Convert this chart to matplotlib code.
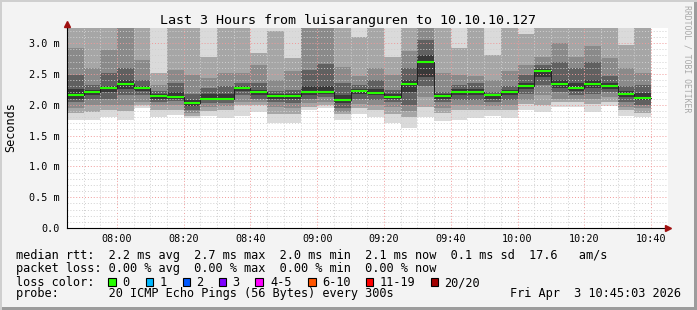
import numpy as np
import matplotlib
matplotlib.use('Agg')
import matplotlib.pyplot as plt
from matplotlib.patches import Rectangle
from matplotlib.ticker import MultipleLocator, FuncFormatter

W, H = 697, 310
MONO = 'DejaVu Sans Mono'

# one bar every 300 s, first one at 07:45 (minutes after midnight)
step = 5
t0 = 7 * 60 + 45
times = t0 + step * np.arange(35)

# median rtt per bar (ms)
median = [2.16, 2.20, 2.27, 2.34, 2.27, 2.14, 2.13, 2.03, 2.10, 2.10,
          2.27, 2.20, 2.14, 2.14, 2.21, 2.20, 2.08, 2.23, 2.19, 2.13,
          2.34, 2.69, 2.14, 2.21, 2.21, 2.16, 2.21, 2.31, 2.55, 2.34,
          2.27, 2.34, 2.31, 2.18, 2.11]

# smoke: per bar, bottom/top of each shade band, outer band first (ms)
smoke_lo = [
    [1.75, 1.86, 1.95, 2.04, 2.10], [1.75, 1.88, 2.00, 2.10, 2.16],
    [1.80, 1.92, 2.00, 2.10, 2.20], [1.75, 1.90, 2.00, 2.16, 2.25],
    [1.95, 2.00, 2.05, 2.15, 2.22], [1.80, 1.92, 2.00, 2.05, 2.10],
    [1.83, 1.92, 2.00, 2.06, 2.10], [1.78, 1.82, 1.87, 1.92, 1.98],
    [1.81, 1.90, 1.97, 2.03, 2.07], [1.78, 1.92, 1.98, 2.03, 2.07],
    [1.81, 2.00, 2.05, 2.15, 2.22], [1.89, 2.00, 2.05, 2.10, 2.16],
    [1.70, 1.85, 1.97, 2.05, 2.10], [1.70, 1.85, 1.95, 2.03, 2.10],
    [1.92, 1.97, 2.03, 2.10, 2.16], [1.95, 1.99, 2.05, 2.12, 2.17],
    [1.76, 1.85, 1.89, 1.95, 2.03], [1.85, 1.95, 2.02, 2.10, 2.18],
    [1.80, 1.92, 2.00, 2.08, 2.15], [1.70, 1.85, 1.97, 2.05, 2.10],
    [1.63, 1.80, 1.90, 2.00, 2.20], [1.80, 1.97, 2.13, 2.30, 2.45],
    [1.73, 1.87, 1.95, 2.05, 2.10], [1.76, 1.92, 2.00, 2.08, 2.15],
    [1.78, 1.92, 2.00, 2.08, 2.16], [1.82, 1.92, 1.98, 2.05, 2.10],
    [1.78, 1.92, 2.00, 2.08, 2.16], [1.92, 2.02, 2.08, 2.18, 2.26],
    [1.89, 2.00, 2.16, 2.32, 2.45], [1.97, 2.05, 2.10, 2.20, 2.27],
    [1.97, 2.05, 2.10, 2.16, 2.22], [1.89, 2.02, 2.10, 2.18, 2.27],
    [1.98, 2.05, 2.12, 2.20, 2.26], [1.81, 1.92, 1.97, 2.05, 2.13],
    [1.80, 1.87, 1.95, 2.00, 2.07],
]
smoke_hi = [
    [3.30, 3.25, 2.92, 2.48, 2.26], [3.30, 3.30, 2.59, 2.32, 2.24],
    [3.30, 3.30, 2.89, 2.51, 2.30], [3.30, 3.30, 3.30, 2.59, 2.40],
    [3.30, 3.30, 2.73, 2.40, 2.30], [3.30, 2.52, 2.32, 2.22, 2.17],
    [3.30, 3.30, 2.57, 2.35, 2.20], [3.30, 3.30, 2.48, 2.18, 2.08],
    [3.30, 2.78, 2.43, 2.27, 2.17], [3.30, 3.30, 2.51, 2.30, 2.17],
    [3.30, 3.25, 2.51, 2.35, 2.30], [3.30, 2.84, 2.65, 2.35, 2.24],
    [3.30, 3.20, 2.40, 2.22, 2.18], [3.30, 2.76, 2.54, 2.24, 2.18],
    [3.30, 3.30, 3.30, 2.57, 2.30], [3.30, 3.30, 3.30, 2.66, 2.30],
    [3.30, 3.30, 2.62, 2.35, 2.16], [3.30, 3.10, 2.46, 2.32, 2.26],
    [3.30, 3.30, 2.59, 2.40, 2.25], [3.30, 2.78, 2.48, 2.24, 2.17],
    [3.30, 3.30, 2.87, 2.59, 2.40], [3.30, 3.30, 3.30, 3.05, 2.80],
    [3.30, 3.30, 2.51, 2.21, 2.18], [3.30, 2.92, 2.48, 2.32, 2.26],
    [3.30, 3.30, 2.46, 2.35, 2.26], [3.30, 2.80, 2.40, 2.21, 2.18],
    [3.30, 3.30, 2.54, 2.30, 2.24], [3.30, 3.15, 2.65, 2.48, 2.35],
    [3.30, 3.30, 2.78, 2.65, 2.58], [3.30, 3.30, 3.00, 2.70, 2.40],
    [3.30, 3.30, 2.78, 2.59, 2.35], [3.30, 3.30, 2.95, 2.70, 2.40],
    [3.30, 3.30, 2.76, 2.46, 2.35], [3.30, 2.97, 2.59, 2.30, 2.22],
    [3.30, 3.30, 2.51, 2.32, 2.19],
]
shades = ['#dadada', '#a6a6a6', '#8a8a8a', '#606060', '#383838']

loss_labels = ['0', '1', '2', '3', '4-5', '6-10', '11-19', '20/20']
loss_colors = ['#26ff00', '#00b8ff', '#0059ff', '#7e00ff', '#ff00ff',
               '#ff5500', '#ff0000', '#a10000']

title = 'Last 3 Hours from luisaranguren to 10.10.10.127'
rtt_line = 'median rtt:  2.2 ms avg  2.7 ms max  2.0 ms min  2.1 ms now  0.1 ms sd  17.6   am/s'
loss_line = 'packet loss: 0.00 % avg  0.00 % max  0.00 % min  0.00 % now'
probe_line = 'probe:       20 ICMP Echo Pings (56 Bytes) every 300s'
stamp = 'Fri Apr  3 10:45:03 2026'


def fx(x):
    return x / W


def fy(y):
    return 1 - y / H


fig = plt.figure(figsize=(W / 100, H / 100), dpi=100, facecolor='#f3f3f3')
ax = fig.add_axes([fx(67), fy(228), (668 - 67) / W, (228 - 27.7) / H])
ax.set_facecolor('white')

lo = np.array(smoke_lo)
hi = np.array(smoke_hi)
for k in range(lo.shape[1]):
    ax.bar(times, hi[:, k] - lo[:, k], bottom=lo[:, k], width=step,
           align='edge', color=shades[k], linewidth=0, zorder=1)

med = np.array(median)
ax.step(np.append(times, times[-1] + step), np.append(med, med[-1]),
        where='post', color='#202020', lw=0.7, zorder=3)
ax.hlines(med, times, times + step, color=loss_colors[0], lw=1.5, zorder=4)

ax.set_xlim(t0 + 0.05, t0 + 180.05)
ax.set_ylim(0, 3.25)

ax.xaxis.set_major_locator(MultipleLocator(20))
ax.xaxis.set_minor_locator(MultipleLocator(5))
ax.yaxis.set_major_locator(MultipleLocator(0.5))
ax.yaxis.set_minor_locator(MultipleLocator(0.1))
ax.xaxis.set_major_formatter(FuncFormatter(lambda v, p: '%02d:%02d' % (int(v) // 60, int(v) % 60)))
ax.yaxis.set_major_formatter(FuncFormatter(lambda v, p: '0.0' if v == 0 else '%.1f m' % v))

ax.set_axisbelow(False)
ax.grid(which='minor', color='#d0d0d0', ls=(0, (1, 2)), lw=0.7)
ax.grid(which='major', color='#f09a9a', ls=(0, (1, 2)), lw=0.7)
ax.tick_params(which='both', length=0)
ax.tick_params(axis='y', pad=5)
ax.tick_params(axis='x', pad=4)
for lab in ax.get_xticklabels() + ax.get_yticklabels():
    lab.set_family(MONO)
    lab.set_fontsize(7.3)

for s in ['top', 'right']:
    ax.spines[s].set_visible(False)
for s in ['left', 'bottom']:
    ax.spines[s].set_color('black')
    ax.spines[s].set_linewidth(0.8)
    ax.spines[s].set_zorder(5)

# axis extensions with arrows
ax.plot([0, 0], [1, 1 + 4 / 200.3], transform=ax.transAxes, color='black',
        lw=0.8, clip_on=False, zorder=5)
ax.plot([0], [1 + 4 / 200.3], marker='^', ms=4, color='#a01010',
        transform=ax.transAxes, clip_on=False, zorder=6)
ax.plot([1], [0], marker='>', ms=4, color='#a01010',
        transform=ax.transAxes, clip_on=False, zorder=6)

fig.text(fx(347.5), fy(24), title, ha='center', va='baseline',
         fontsize=9.6, family=MONO)
fig.text(fx(10.5), fy(127.5), 'Seconds', rotation=90, ha='center',
         va='center', fontsize=8.5, family=MONO)
fig.text(fx(687.5), fy(5), 'RRDTOOL / TOBI OETIKER', rotation=270,
         ha='center', va='top', fontsize=5.9, family=MONO, color='#a8a8a8')

fs = 8.55
fig.text(fx(15.5), fy(259), rtt_line, va='baseline', fontsize=fs, family=MONO)
fig.text(fx(15.5), fy(272), loss_line, va='baseline', fontsize=fs, family=MONO)
fig.text(fx(15.5), fy(286), 'loss color:', va='baseline', fontsize=fs, family=MONO)
fig.text(fx(15.5), fy(297.5), probe_line, va='baseline', fontsize=fs, family=MONO)
fig.text(fx(681), fy(297.5), stamp, ha='right', va='baseline', fontsize=fs, family=MONO)

box_x = [108.3, 146, 182.7, 219, 255.3, 308.3, 365.7, 430.7]
lab_x = [122.6, 160, 196.6, 232.6, 270, 322, 380, 444.3]
for bx, lx, lab, col in zip(box_x, lab_x, loss_labels, loss_colors):
    fig.patches.append(Rectangle((fx(bx), fy(285.7)), 7.4 / W, 7.4 / H,
                                 transform=fig.transFigure, facecolor=col,
                                 edgecolor='black', lw=0.8))
    fig.text(fx(lx), fy(286), lab, va='baseline', fontsize=fs, family=MONO)

# image frame
fig.patches.append(Rectangle((0, 0), 1, 3 / H, transform=fig.transFigure,
                             color='#9c9c9c', lw=0))
fig.patches.append(Rectangle((1 - 3 / W, 0), 3 / W, 1, transform=fig.transFigure,
                             color='#9c9c9c', lw=0))
fig.patches.append(Rectangle((0, 1 - 2 / H), 1, 2 / H, transform=fig.transFigure,
                             color='#cfcfcf', lw=0))
fig.patches.append(Rectangle((0, 0), 2 / W, 1, transform=fig.transFigure,
                             color='#cfcfcf', lw=0))

fig.savefig('out.png', dpi=100, facecolor=fig.get_facecolor())
